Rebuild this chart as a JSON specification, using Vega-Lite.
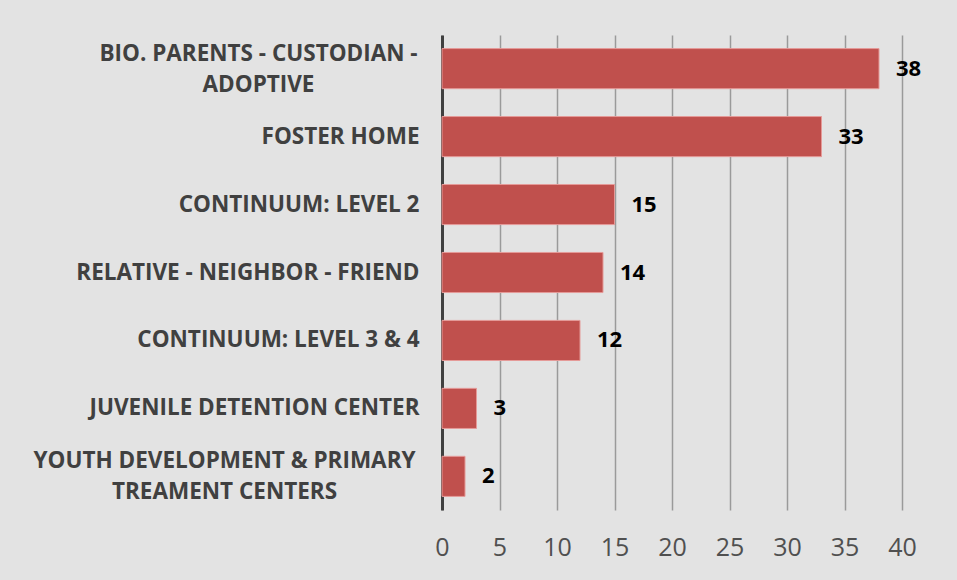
{
  "$schema": "https://vega.github.io/schema/vega-lite/v6.json",
  "width": 460,
  "height": 475,
  "autosize": "none",
  "padding": {"left": 442, "top": 35, "right": 55, "bottom": 70},
  "background": "#e3e3e3",
  "config": {"view": {"stroke": null}, "font": "Open Sans"},
  "data": {
    "values": [
      {"placement": "BIO. PARENTS - CUSTODIAN - ADOPTIVE", "count": 38},
      {"placement": "FOSTER HOME", "count": 33},
      {"placement": "CONTINUUM: LEVEL 2", "count": 15},
      {"placement": "RELATIVE - NEIGHBOR - FRIEND", "count": 14},
      {"placement": "CONTINUUM: LEVEL 3 & 4", "count": 12},
      {"placement": "JUVENILE DETENTION CENTER", "count": 3},
      {"placement": "YOUTH DEVELOPMENT & PRIMARY TREAMENT CENTERS", "count": 2}
    ]
  },
  "encoding": {
    "y": {
      "field": "placement",
      "type": "nominal",
      "sort": null,
      "scale": {"paddingInner": 0.41, "paddingOuter": 0.2},
      "axis": {
        "title": null,
        "grid": false,
        "ticks": false,
        "domain": true,
        "domainColor": "#404040",
        "domainWidth": 3,
        "labelFont": "Open Sans",
        "labelFontSize": 22.5,
        "labelFontWeight": "bold",
        "labelColor": "#404040",
        "labelLimit": 0,
        "labelLineHeight": 31,
        "labelPadding": {
          "condition": [
            {"test": "indexof(datum.value, 'BIO') == 0", "value": 184},
            {"test": "indexof(datum.value, 'YOUTH') == 0", "value": 218}
          ],
          "value": 23
        },
        "labelOffset": {
          "condition": {"test": "indexof(datum.value, 'BIO') == 0 || indexof(datum.value, 'YOUTH') == 0", "value": -15},
          "value": 0
        },
        "labelAlign": {
          "condition": {"test": "indexof(datum.value, 'BIO') == 0 || indexof(datum.value, 'YOUTH') == 0", "value": "center"},
          "value": "right"
        },
        "labelExpr": "datum.value == 'BIO. PARENTS - CUSTODIAN - ADOPTIVE' ? ['BIO. PARENTS - CUSTODIAN -', 'ADOPTIVE'] : datum.value == 'YOUTH DEVELOPMENT & PRIMARY TREAMENT CENTERS' ? ['YOUTH DEVELOPMENT & PRIMARY', 'TREAMENT CENTERS'] : datum.value"
      }
    },
    "x": {
      "field": "count",
      "type": "quantitative",
      "scale": {"domain": [0, 40], "nice": false},
      "axis": {
        "title": null,
        "values": [0, 5, 10, 15, 20, 25, 30, 35, 40],
        "grid": true,
        "gridColor": "#9a9a9a",
        "gridWidth": 1.5,
        "domain": false,
        "ticks": false,
        "labelFlush": false,
        "labelFont": "Open Sans",
        "labelFontSize": 25,
        "labelColor": "#505050",
        "labelPadding": 25
      }
    }
  },
  "layer": [
    {"mark": {"type": "bar", "color": "#C0504D", "stroke": "#e59a98", "strokeWidth": 1}},
    {
      "mark": {"type": "text", "align": "left", "baseline": "middle", "dx": 17, "fontWeight": "bold", "fontSize": 22, "color": "#000000", "font": "Open Sans"},
      "encoding": {"text": {"field": "count", "type": "quantitative"}}
    }
  ]
}
